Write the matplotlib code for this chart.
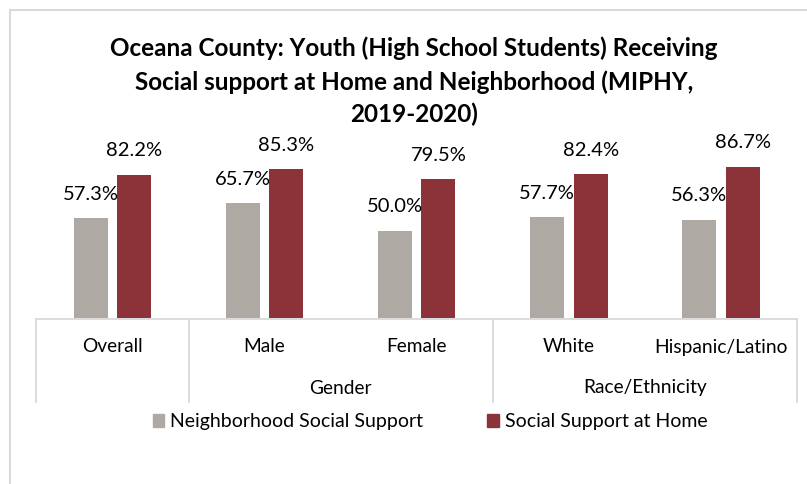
import matplotlib
matplotlib.use("Agg")
import matplotlib.pyplot as plt
from matplotlib.patches import Rectangle, Patch
from matplotlib.lines import Line2D
from matplotlib.transforms import blended_transform_factory

categories = ["Overall", "Male", "Female", "White", "Hispanic/Latino"]
groups = ["Gender", "Race/Ethnicity"]
group_spans = [(0.5, 2.5), (2.5, 4.5)]
separators = [-0.5, 0.5, 2.5, 4.5]
neighborhood = [57.3, 65.7, 50.0, 57.7, 56.3]
home = [82.2, 85.3, 79.5, 82.4, 86.7]
series_names = ["Neighborhood Social Support", "Social Support at Home"]

gray = "#AEAAA3"
red = "#8C333A"
line_col = "#D9D9D9"

plt.rcParams["font.family"] = ["Lato", "DejaVu Sans"]

W, H = 807, 484
fig = plt.figure(figsize=(W / 100, H / 100), dpi=100)

# axes: left 36, right 797, baseline at y=318 px, 1.745 px per percent
base = 318
ax_h = 100 * 1.745
ax = fig.add_axes([36.4 / W, (H - base) / H, (797 - 36.4) / W, ax_h / H])
ax.set_xlim(-0.5, 4.5)
ax.set_ylim(0, 100)
ax.axis("off")

x = list(range(len(categories)))
off = 0.143
bw = 0.224
ax.bar([i - off for i in x], neighborhood, bw, color=gray)
ax.bar([i + off for i in x], home, bw, color=red)

for i in x:
    ax.annotate(f"{neighborhood[i]:.1f}%", (i - off, neighborhood[i]), xytext=(0, 24),
                textcoords="offset pixels", ha="center", va="center", fontsize=14.5)
    ax.annotate(f"{home[i]:.1f}%", (i + off, home[i]), xytext=(0, 24),
                textcoords="offset pixels", ha="center", va="center", fontsize=14.5)

# multi-level category axis
tr = blended_transform_factory(ax.transData, fig.transFigure)
fy = lambda py: 1 - py / H
ax.add_line(Line2D([-0.5, 4.5], [fy(319), fy(319)], transform=tr, color=line_col,
                   lw=1.3, clip_on=False))
for s in separators:
    ax.add_line(Line2D([s, s], [fy(319), fy(402)], transform=tr, color=line_col,
                       lw=1.3, clip_on=False))
for i, c in enumerate(categories):
    ax.text(i, fy(347), c, transform=tr, ha="center", va="center", fontsize=13.8)
for g, (a, b) in zip(groups, group_spans):
    ax.text((a + b) / 2, fy(388), g, transform=tr, ha="center", va="center", fontsize=13.8)

fig.text(414 / W, fy(48), "Oceana County: Youth (High School Students) Receiving",
         ha="center", va="center", fontsize=17.5, fontweight="bold")
fig.text(414 / W, fy(82), "Social support at Home and Neighborhood (MIPHY,",
         ha="center", va="center", fontsize=17.5, fontweight="bold")
fig.text(414 / W, fy(114), "2019-2020)",
         ha="center", va="center", fontsize=17.5, fontweight="bold")

handles = [Patch(color=gray), Patch(color=red)]
fig.legend(handles, series_names, loc="center", bbox_to_anchor=(430 / W, fy(422)),
           ncol=2, frameon=False, fontsize=14, handlelength=0.6, handleheight=0.6,
           handletextpad=0.3, columnspacing=3.3)

# chart border
fig.patches.append(Rectangle((10 / W, -0.1), 1.1, fy(10) + 0.1, transform=fig.transFigure,
                             fill=False, edgecolor=line_col, lw=1.5))

fig.savefig("out.png", dpi=100)
